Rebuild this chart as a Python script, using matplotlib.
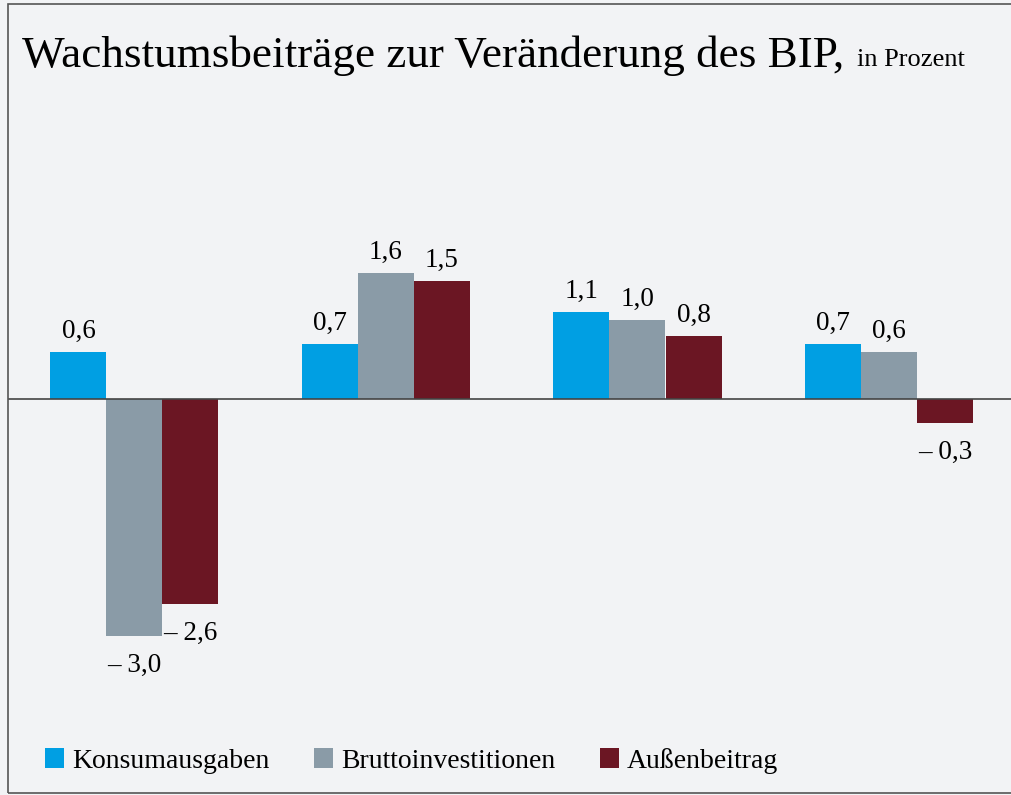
import matplotlib
matplotlib.use("Agg")
import matplotlib.pyplot as plt
from matplotlib.patches import Rectangle
import numpy as np

# Data
groups = ["G1", "G2", "G3", "G4"]
series_names = ["Konsumausgaben", "Bruttoinvestitionen", "Außenbeitrag"]
konsum = [0.6, 0.7, 1.1, 0.7]
brutto = [-3.0, 1.6, 1.0, 0.6]
aussen = [-2.6, 1.5, 0.8, -0.3]
colors = ["#009fe3", "#8a9ba7", "#6b1623"]

W, H = 1012, 795
fig = plt.figure(figsize=(W / 100, H / 100), dpi=100)
bg = "#f2f3f5"
fig.patch.set_facecolor(bg)

def fx(px):
    return px / W

def fy(py):
    return 1 - py / H

# axes geometry
ax_left, ax_right = 8, 1012
ax_top, ax_bottom = 130, 720
ax = fig.add_axes([fx(ax_left), fy(ax_bottom), fx(ax_right - ax_left), (ax_bottom - ax_top) / H])
ax.set_facecolor(bg)

c0, spacing = 134.5, 251.5
ax.set_xlim((ax_left - c0) / spacing, (ax_right - c0) / spacing)
ppu = 79.0
ax.set_ylim(-(ax_bottom - 399) / ppu, (399 - ax_top) / ppu)

x = np.arange(len(groups))
bw = 56 / spacing
serif = "Liberation Serif"
lab_fs = 19.5

for k, (vals, col, name) in enumerate(zip([konsum, brutto, aussen], colors, series_names)):
    xs = x + (k - 1) * bw
    ax.bar(xs, vals, width=bw, color=col, label=name, zorder=2)
    for xi, v in zip(xs, vals):
        txt = f"{abs(v):.1f}".replace(".", ",")
        if v < 0:
            txt = "\u2013 " + txt
            ax.annotate(txt, (xi, v), xytext=(0, -36), textcoords="offset pixels",
                        ha="center", va="baseline", fontsize=lab_fs, family=serif)
        else:
            ax.annotate(txt, (xi, v), xytext=(0, 14), textcoords="offset pixels",
                        ha="center", va="baseline", fontsize=lab_fs, family=serif)

ax.axhline(0, color="#444444", lw=1.2, zorder=3)
for s in ax.spines.values():
    s.set_visible(False)
ax.set_xticks([])
ax.set_yticks([])

# border
fig.patches.append(Rectangle((fx(8), fy(793)), fx(1020 - 8), (793 - 4) / H,
                             transform=fig.transFigure, fill=False,
                             edgecolor="#555555", lw=1.2))

# title
t = fig.text(fx(22), fy(67), "Wachstumsbeiträge zur Veränderung des BIP,",
             fontsize=32.5, family=serif, va="baseline", ha="left")
fig.canvas.draw()
bb = t.get_window_extent()
fig.text((bb.x1 + 13) / W, fy(66), "in Prozent", fontsize=19, family=serif,
         va="baseline", ha="left")

# legend
ax.legend(loc="lower left", bbox_to_anchor=(fx(45), fy(774)),
          bbox_transform=fig.transFigure, ncol=3, frameon=False,
          prop={"family": serif, "size": 20}, handlelength=0.68,
          handleheight=0.72, handletextpad=0.3, columnspacing=1.6,
          borderpad=0, borderaxespad=0)

fig.savefig("out.png", dpi=100, facecolor=bg)
